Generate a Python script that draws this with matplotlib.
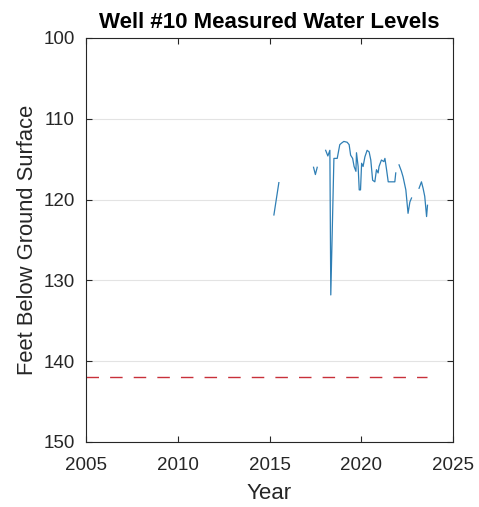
import numpy as np
import matplotlib
matplotlib.use("Agg")
import matplotlib.pyplot as plt

plt.rcParams['font.family'] = ['Liberation Sans', 'DejaVu Sans']

# Measured water levels (feet below ground surface); NaN = gap in record
years = [2015.24, 2015.51, np.nan,
         2017.40, 2017.50, 2017.60, np.nan,
         2018.06, 2018.18, 2018.29, 2018.34, 2018.51, 2018.69, 2018.83, 2018.93,
         2019.05, 2019.23, 2019.34, 2019.42, 2019.53, 2019.61, 2019.71, 2019.74,
         2019.83, 2019.89, 2019.96, 2020.02, 2020.10, 2020.20, 2020.32, 2020.43,
         2020.52, 2020.62, 2020.74, 2020.83, 2020.92, 2020.97, 2021.10, 2021.23,
         2021.29, 2021.38, 2021.47, 2021.65, 2021.83, 2021.88, np.nan,
         2022.06, 2022.19, 2022.28, 2022.43, 2022.55, 2022.65, 2022.74, np.nan,
         2023.15, 2023.28, 2023.37, 2023.46, 2023.56, 2023.61]
levels = [121.9, 117.9, np.nan,
          116.0, 116.9, 116.0, np.nan,
          113.9, 114.6, 113.9, 131.8, 114.9, 114.9, 113.2, 113.0,
          112.8, 112.9, 113.2, 114.5, 114.9, 115.9, 116.5, 114.2,
          115.9, 118.8, 118.8, 115.5, 115.9, 114.7, 113.9, 114.1,
          115.1, 117.6, 117.8, 116.3, 116.7, 115.9, 115.1, 115.3,
          114.9, 116.3, 117.8, 117.8, 117.8, 116.7, np.nan,
          115.7, 116.5, 117.2, 118.8, 121.7, 120.3, 119.8, np.nan,
          118.6, 117.8, 118.6, 119.6, 122.1, 120.7]

threshold_years = [2005.0, 2023.6]
threshold_level = [142.0, 142.0]

xticks = [2005, 2010, 2015, 2020, 2025]
yticks = [100, 110, 120, 130, 140, 150]

fig = plt.figure(figsize=(4.79, 5.07), dpi=100)
ax = fig.add_axes([86/479, 1 - 442/507, (453-86)/479, (442-38)/507])

ax.plot(years, levels, color='#2f7fb5', lw=0.9)
ax.plot(threshold_years, threshold_level, color='#c8303a', lw=1.0,
        linestyle=(0, (9, 8)))

ax.set_xlim(2005, 2025)
ax.set_ylim(150, 100)
ax.set_xticks(xticks)
ax.set_yticks(yticks)
ax.yaxis.grid(True, color='#e3e3e3', lw=0.8)
ax.set_axisbelow(True)
ax.tick_params(direction='in', length=4, labelsize=13.5, top=True, right=True,
               color='#262626', labelcolor='#262626', width=0.8)
ax.tick_params(axis='x', pad=11)
ax.tick_params(axis='y', pad=8)
for s in ax.spines.values():
    s.set_color('#262626')
    s.set_linewidth(0.8)

ax.set_title('Well #10 Measured Water Levels', fontsize=16, fontweight='bold',
             pad=7)
ax.set_xlabel('Year', fontsize=16, color='#262626', labelpad=6)
ax.set_ylabel('Feet Below Ground Surface', fontsize=15.8, color='#262626',
              labelpad=4)

fig.savefig('out.png', dpi=100)
